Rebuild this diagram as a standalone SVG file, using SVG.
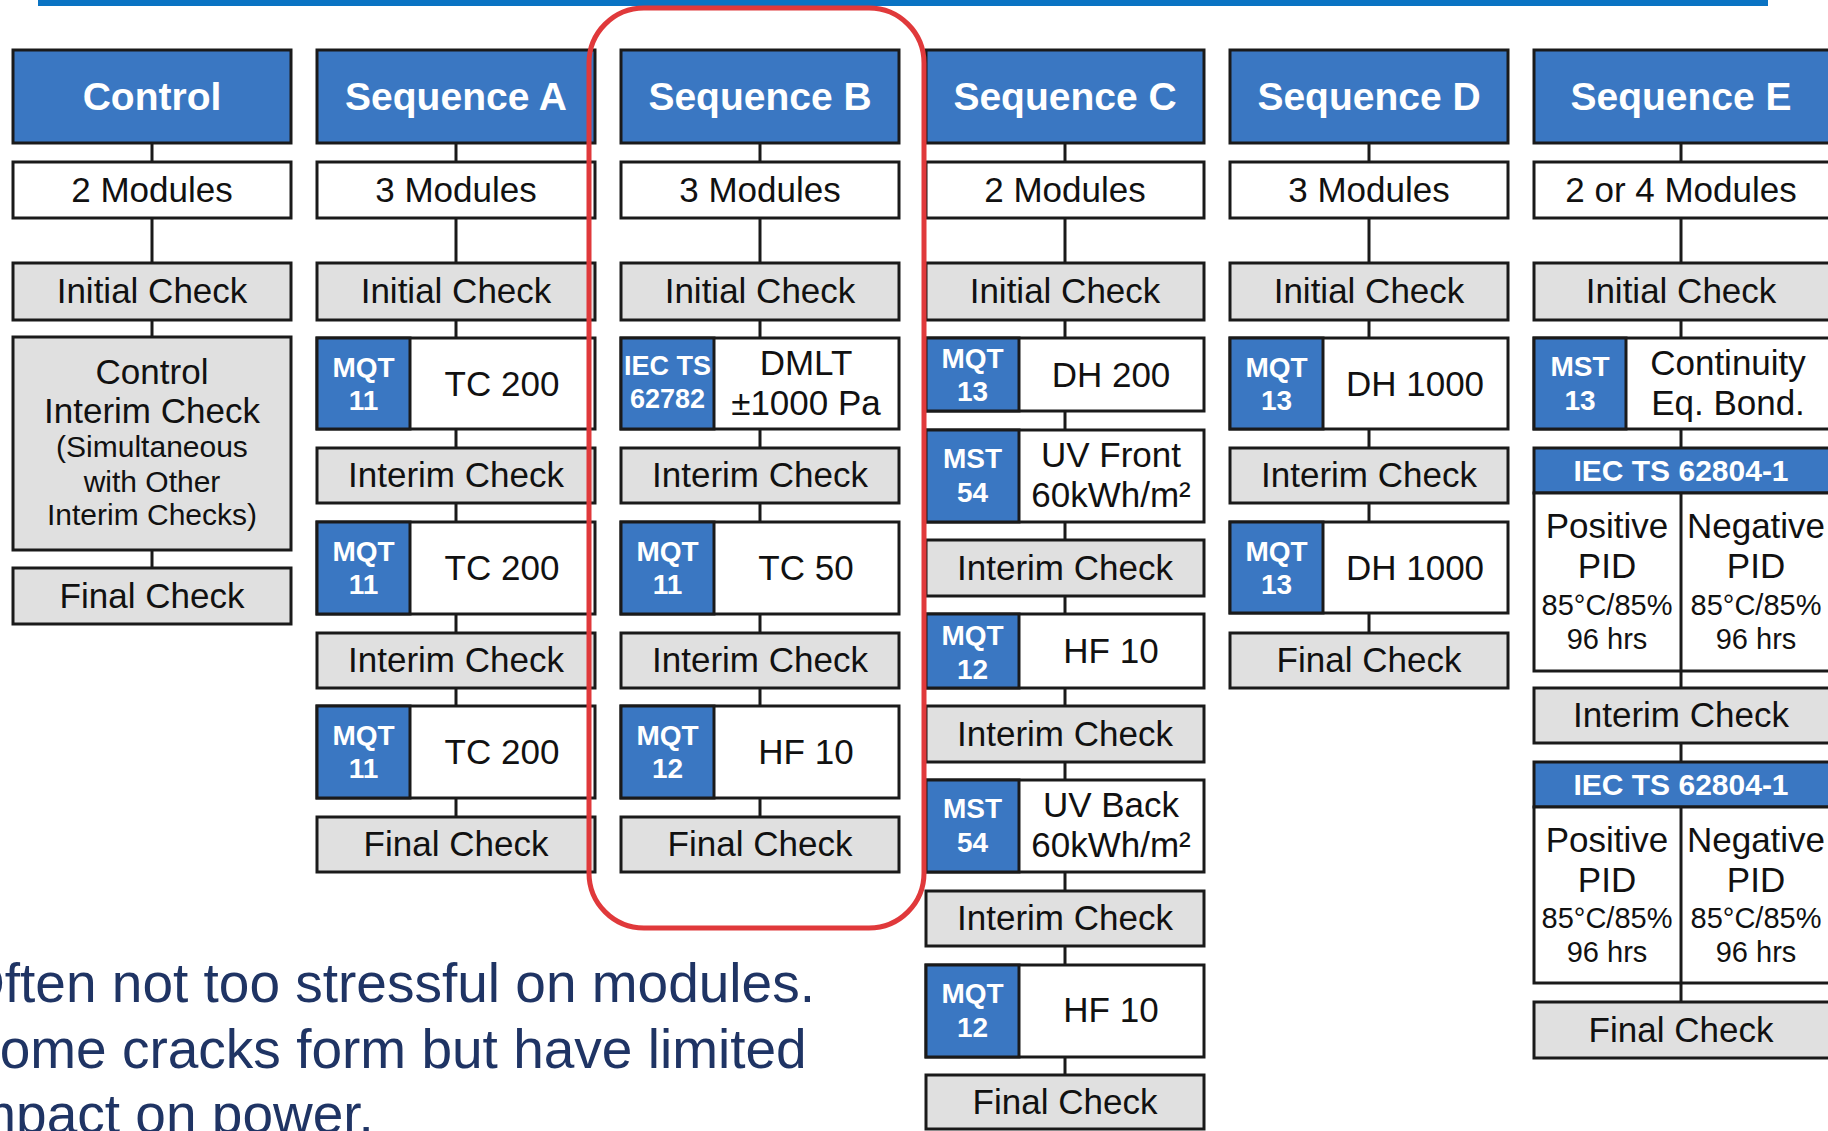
<svg xmlns="http://www.w3.org/2000/svg" width="1828" height="1131" viewBox="0 0 1828 1131">
<style>
.bg{fill:#fff}
.hdr{fill:#3A77C2;stroke:#1a1a1a;stroke-width:3}
.wht{fill:#fff;stroke:#1a1a1a;stroke-width:3}
.gry{fill:#E0E0E0;stroke:#1a1a1a;stroke-width:3}
.blu{fill:#3A77C2;stroke:#1a1a1a;stroke-width:3}
.ln{stroke:#1a1a1a;stroke-width:3;fill:none}
.ht{font-family:"Liberation Sans",Arial,sans-serif;font-weight:bold;font-size:39px;fill:#fff;text-anchor:middle}
.t{font-family:"Liberation Sans",Arial,sans-serif;font-size:35px;fill:#111;text-anchor:middle}
.s{font-family:"Liberation Sans",Arial,sans-serif;font-size:30px;fill:#111;text-anchor:middle}
.p{font-family:"Liberation Sans",Arial,sans-serif;font-size:29px;fill:#111;text-anchor:middle}
.bt{font-family:"Liberation Sans",Arial,sans-serif;font-weight:bold;font-size:28px;fill:#fff;text-anchor:middle}
.bs{font-family:"Liberation Sans",Arial,sans-serif;font-weight:bold;font-size:27px;fill:#fff;text-anchor:middle}
.bb{font-family:"Liberation Sans",Arial,sans-serif;font-weight:bold;font-size:30px;fill:#fff;text-anchor:middle}
.ft{font-family:"Liberation Sans",Arial,sans-serif;font-size:55px;fill:#1F3464}
</style>
<rect class="bg" x="0" y="0" width="1828" height="1131"/>
<rect x="38" y="0" width="1730" height="6" fill="#0A73C3"/>

<g id="connectors">
<path class="ln" d="M152 143V568"/>
<path class="ln" d="M456 143V817"/>
<path class="ln" d="M760 143V817"/>
<path class="ln" d="M1065 143V1075"/>
<path class="ln" d="M1369 143V633"/>
<path class="ln" d="M1681 143V1002"/>
</g>

<!-- Control -->
<g id="ctrl-hdr"><rect class="hdr" x="13" y="50" width="278" height="93"/><text class="ht" x="152" y="110">Control</text></g>
<g id="ctrl-mod"><rect class="wht" x="13" y="162" width="278" height="56"/><text class="t" x="152" y="202">2 Modules</text></g>
<g id="ctrl-init"><rect class="gry" x="13" y="263" width="278" height="57"/><text class="t" x="152" y="303">Initial Check</text></g>
<g id="ctrl-interim"><rect class="gry" x="13" y="337" width="278" height="213"/>
<text class="t" x="152" y="384">Control</text>
<text class="t" x="152" y="423">Interim Check</text>
<text class="s" x="152" y="457">(Simultaneous</text>
<text class="s" x="152" y="492">with Other</text>
<text class="s" x="152" y="525">Interim Checks)</text></g>
<g id="ctrl-final"><rect class="gry" x="13" y="568" width="278" height="56"/><text class="t" x="152" y="608">Final Check</text></g>

<!-- Sequence A -->
<g id="a-hdr"><rect class="hdr" x="317" y="50" width="278" height="93"/><text class="ht" x="456" y="110">Sequence A</text></g>
<g id="a-mod"><rect class="wht" x="317" y="162" width="278" height="56"/><text class="t" x="456" y="202">3 Modules</text></g>
<g id="a-init"><rect class="gry" x="317" y="263" width="278" height="57"/><text class="t" x="456" y="303">Initial Check</text></g>
<g id="a-tc1"><rect class="wht" x="317" y="338" width="278" height="91"/><rect class="blu" x="317" y="338" width="93" height="91"/><text class="bt" x="363.5" y="377">MQT</text><text class="bt" x="363.5" y="410">11</text><text class="t" x="502" y="396">TC 200</text></g>
<g id="a-int1"><rect class="gry" x="317" y="448" width="278" height="55"/><text class="t" x="456" y="487">Interim Check</text></g>
<g id="a-tc2"><rect class="wht" x="317" y="522" width="278" height="92"/><rect class="blu" x="317" y="522" width="93" height="92"/><text class="bt" x="363.5" y="561">MQT</text><text class="bt" x="363.5" y="594">11</text><text class="t" x="502" y="580">TC 200</text></g>
<g id="a-int2"><rect class="gry" x="317" y="633" width="278" height="55"/><text class="t" x="456" y="672">Interim Check</text></g>
<g id="a-tc3"><rect class="wht" x="317" y="706" width="278" height="92"/><rect class="blu" x="317" y="706" width="93" height="92"/><text class="bt" x="363.5" y="745">MQT</text><text class="bt" x="363.5" y="778">11</text><text class="t" x="502" y="764">TC 200</text></g>
<g id="a-final"><rect class="gry" x="317" y="817" width="278" height="55"/><text class="t" x="456" y="856">Final Check</text></g>

<!-- Sequence B -->
<g id="b-hdr"><rect class="hdr" x="621" y="50" width="278" height="93"/><text class="ht" x="760" y="110">Sequence B</text></g>
<g id="b-mod"><rect class="wht" x="621" y="162" width="278" height="56"/><text class="t" x="760" y="202">3 Modules</text></g>
<g id="b-init"><rect class="gry" x="621" y="263" width="278" height="57"/><text class="t" x="760" y="303">Initial Check</text></g>
<g id="b-dmlt"><rect class="wht" x="621" y="338" width="278" height="91"/><rect class="blu" x="621" y="338" width="93" height="91"/><text class="bs" x="667.5" y="375">IEC TS</text><text class="bs" x="667.5" y="408">62782</text><text class="t" x="806" y="375">DMLT</text><text class="t" x="806" y="415">±1000 Pa</text></g>
<g id="b-int1"><rect class="gry" x="621" y="448" width="278" height="55"/><text class="t" x="760" y="487">Interim Check</text></g>
<g id="b-tc"><rect class="wht" x="621" y="522" width="278" height="92"/><rect class="blu" x="621" y="522" width="93" height="92"/><text class="bt" x="667.5" y="561">MQT</text><text class="bt" x="667.5" y="594">11</text><text class="t" x="806" y="580">TC 50</text></g>
<g id="b-int2"><rect class="gry" x="621" y="633" width="278" height="55"/><text class="t" x="760" y="672">Interim Check</text></g>
<g id="b-hf"><rect class="wht" x="621" y="706" width="278" height="92"/><rect class="blu" x="621" y="706" width="93" height="92"/><text class="bt" x="667.5" y="745">MQT</text><text class="bt" x="667.5" y="778">12</text><text class="t" x="806" y="764">HF 10</text></g>
<g id="b-final"><rect class="gry" x="621" y="817" width="278" height="55"/><text class="t" x="760" y="856">Final Check</text></g>

<!-- Sequence C -->
<g id="c-hdr"><rect class="hdr" x="926" y="50" width="278" height="93"/><text class="ht" x="1065" y="110">Sequence C</text></g>
<g id="c-mod"><rect class="wht" x="926" y="162" width="278" height="56"/><text class="t" x="1065" y="202">2 Modules</text></g>
<g id="c-init"><rect class="gry" x="926" y="263" width="278" height="57"/><text class="t" x="1065" y="303">Initial Check</text></g>
<g id="c-dh"><rect class="wht" x="926" y="338" width="278" height="73"/><rect class="blu" x="926" y="338" width="93" height="73"/><text class="bt" x="972.5" y="368">MQT</text><text class="bt" x="972.5" y="401">13</text><text class="t" x="1111" y="387">DH 200</text></g>
<g id="c-uvf"><rect class="wht" x="926" y="430" width="278" height="92"/><rect class="blu" x="926" y="430" width="93" height="92"/><text class="bt" x="972.5" y="468">MST</text><text class="bt" x="972.5" y="502">54</text><text class="t" x="1111" y="467">UV Front</text><text class="t" x="1111" y="507">60kWh/m²</text></g>
<g id="c-int1"><rect class="gry" x="926" y="540" width="278" height="56"/><text class="t" x="1065" y="580">Interim Check</text></g>
<g id="c-hf1"><rect class="wht" x="926" y="614" width="278" height="74"/><rect class="blu" x="926" y="614" width="93" height="74"/><text class="bt" x="972.5" y="645">MQT</text><text class="bt" x="972.5" y="679">12</text><text class="t" x="1111" y="663">HF 10</text></g>
<g id="c-int2"><rect class="gry" x="926" y="706" width="278" height="56"/><text class="t" x="1065" y="746">Interim Check</text></g>
<g id="c-uvb"><rect class="wht" x="926" y="780" width="278" height="92"/><rect class="blu" x="926" y="780" width="93" height="92"/><text class="bt" x="972.5" y="818">MST</text><text class="bt" x="972.5" y="852">54</text><text class="t" x="1111" y="817">UV Back</text><text class="t" x="1111" y="857">60kWh/m²</text></g>
<g id="c-int3"><rect class="gry" x="926" y="891" width="278" height="55"/><text class="t" x="1065" y="930">Interim Check</text></g>
<g id="c-hf2"><rect class="wht" x="926" y="965" width="278" height="92"/><rect class="blu" x="926" y="965" width="93" height="92"/><text class="bt" x="972.5" y="1003">MQT</text><text class="bt" x="972.5" y="1037">12</text><text class="t" x="1111" y="1022">HF 10</text></g>
<g id="c-final"><rect class="gry" x="926" y="1075" width="278" height="54"/><text class="t" x="1065" y="1114">Final Check</text></g>

<!-- Sequence D -->
<g id="d-hdr"><rect class="hdr" x="1230" y="50" width="278" height="93"/><text class="ht" x="1369" y="110">Sequence D</text></g>
<g id="d-mod"><rect class="wht" x="1230" y="162" width="278" height="56"/><text class="t" x="1369" y="202">3 Modules</text></g>
<g id="d-init"><rect class="gry" x="1230" y="263" width="278" height="57"/><text class="t" x="1369" y="303">Initial Check</text></g>
<g id="d-dh1"><rect class="wht" x="1230" y="338" width="278" height="91"/><rect class="blu" x="1230" y="338" width="93" height="91"/><text class="bt" x="1276.5" y="377">MQT</text><text class="bt" x="1276.5" y="410">13</text><text class="t" x="1415" y="396">DH 1000</text></g>
<g id="d-int1"><rect class="gry" x="1230" y="448" width="278" height="55"/><text class="t" x="1369" y="487">Interim Check</text></g>
<g id="d-dh2"><rect class="wht" x="1230" y="522" width="278" height="91"/><rect class="blu" x="1230" y="522" width="93" height="91"/><text class="bt" x="1276.5" y="561">MQT</text><text class="bt" x="1276.5" y="594">13</text><text class="t" x="1415" y="580">DH 1000</text></g>
<g id="d-final"><rect class="gry" x="1230" y="633" width="278" height="55"/><text class="t" x="1369" y="672">Final Check</text></g>

<!-- Sequence E -->
<g id="e-hdr"><rect class="hdr" x="1534" y="50" width="300" height="93"/><text class="ht" x="1681" y="110">Sequence E</text></g>
<g id="e-mod"><rect class="wht" x="1534" y="162" width="300" height="56"/><text class="t" x="1681" y="202">2 or 4 Modules</text></g>
<g id="e-init"><rect class="gry" x="1534" y="263" width="300" height="57"/><text class="t" x="1681" y="303">Initial Check</text></g>
<g id="e-cont"><rect class="wht" x="1534" y="338" width="300" height="91"/><rect class="blu" x="1534" y="338" width="92" height="91"/><text class="bt" x="1580" y="376">MST</text><text class="bt" x="1580" y="410">13</text><text class="t" x="1728" y="375">Continuity</text><text class="t" x="1728" y="415">Eq. Bond.</text></g>
<g id="e-pid1"><rect class="blu" x="1534" y="448" width="300" height="45"/><text class="bb" x="1681" y="481">IEC TS 62804-1</text>
<rect class="wht" x="1534" y="493" width="300" height="178"/><path class="ln" d="M1681 493V671"/>
<text class="t" x="1607" y="538">Positive</text><text class="t" x="1607" y="578">PID</text><text class="p" x="1607" y="615">85°C/85%</text><text class="p" x="1607" y="649">96 hrs</text>
<text class="t" x="1756" y="538">Negative</text><text class="t" x="1756" y="578">PID</text><text class="p" x="1756" y="615">85°C/85%</text><text class="p" x="1756" y="649">96 hrs</text></g>
<g id="e-int"><rect class="gry" x="1534" y="688" width="300" height="55"/><text class="t" x="1681" y="727">Interim Check</text></g>
<g id="e-pid2"><rect class="blu" x="1534" y="762" width="300" height="45"/><text class="bb" x="1681" y="795">IEC TS 62804-1</text>
<rect class="wht" x="1534" y="807" width="300" height="176"/><path class="ln" d="M1681 807V983"/>
<text class="t" x="1607" y="852">Positive</text><text class="t" x="1607" y="892">PID</text><text class="p" x="1607" y="928">85°C/85%</text><text class="p" x="1607" y="962">96 hrs</text>
<text class="t" x="1756" y="852">Negative</text><text class="t" x="1756" y="892">PID</text><text class="p" x="1756" y="928">85°C/85%</text><text class="p" x="1756" y="962">96 hrs</text></g>
<g id="e-final"><rect class="gry" x="1534" y="1002" width="300" height="56"/><text class="t" x="1681" y="1042">Final Check</text></g>

<rect id="highlight" x="589" y="8" width="335" height="920" rx="55" ry="55" fill="none" stroke="#E0393B" stroke-width="5"/>

<g id="note">
<text class="ft" x="-38" y="1002">Often not too stressful on modules.</text>
<text class="ft" x="-37" y="1068">Some cracks form but have limited</text>
<text class="ft" x="-45" y="1133">Impact on power.</text>
</g>
</svg>
